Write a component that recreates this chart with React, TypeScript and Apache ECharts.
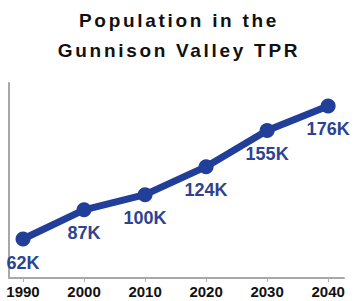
import React, { useEffect, useRef } from "react";
import * as echarts from "echarts";

const titleText = "Population in the\nGunnison Valley TPR";
const years = [1990, 2000, 2010, 2020, 2030, 2040];
const population = [62, 87, 100, 124, 155, 176];
const valueLabels = ["62K", "87K", "100K", "124K", "155K", "176K"];

const FONT = "'Liberation Sans', Arial, Helvetica, sans-serif";

export default function App() {
  const titleRef = useRef<HTMLDivElement>(null);
  const chartRef = useRef<HTMLDivElement>(null);

  useEffect(() => {
    const tChart = echarts.init(titleRef.current!, undefined, { renderer: "svg" });
    tChart.setOption({
      animation: false,
      title: {
        text: titleText,
        left: "center",
        top: 5,
        padding: 0,
        textStyle: {
          fontFamily: FONT,
          fontSize: 19,
          fontWeight: "bold",
          color: "#111111",
          lineHeight: 30.5,
        },
      },
    });

    const chart = echarts.init(chartRef.current!, undefined, { renderer: "svg" });
    chart.setOption({
      animation: false,
      grid: { left: 9, right: 12, top: 83, bottom: 23, containLabel: false },
      xAxis: {
        type: "value",
        min: 1987.7,
        max: 2042.6,
        splitLine: { show: false },
        axisLine: { show: true, lineStyle: { color: "#a8a8a8", width: 2 } },
        axisTick: {
          show: true,
          customValues: years,
          length: 4,
          lineStyle: { color: "#b0b0b0", width: 1 },
        },
        axisLabel: {
          customValues: years,
          fontFamily: FONT,
          fontSize: 15,
          fontWeight: "bold",
          color: "#111111",
          margin: 6,
          formatter: (v: number) => String(v),
        },
      },
      yAxis: {
        type: "value",
        min: 28.6,
        max: 195.7,
        splitLine: { show: false },
        axisLabel: { show: false },
        axisTick: { show: false },
        axisLine: { show: true, lineStyle: { color: "#a8a8a8", width: 2 } },
      },
      series: [
        {
          type: "line",
          data: years.map((y, i) => [y, population[i]]),
          symbol: "circle",
          symbolSize: 15,
          lineStyle: { color: "#213f99", width: 7 },
          itemStyle: { color: "#213f99" },
          label: {
            show: true,
            position: "bottom",
            distance: 7,
            fontFamily: FONT,
            fontSize: 18,
            fontWeight: "bold",
            color: "#2d4391",
            formatter: (p: any) => valueLabels[p.dataIndex],
          },
        },
      ],
    });

    return () => {
      tChart.dispose();
      chart.dispose();
    };
  }, []);

  return (
    <div style={{ position: "absolute", left: 0, top: 0, width: 356, height: 301, background: "#ffffff" }}>
      <div ref={chartRef} style={{ position: "absolute", left: 0, top: 0, width: 356, height: 301 }} />
      <div
        ref={titleRef}
        style={{ position: "absolute", left: 1, top: 0, width: 356, height: 70, letterSpacing: "2.7px", pointerEvents: "none" }}
      />
    </div>
  );
}
